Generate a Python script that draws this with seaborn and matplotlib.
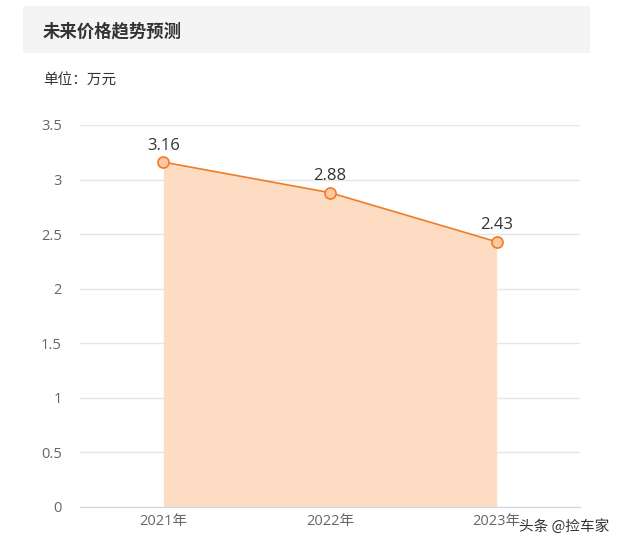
import numpy as np
import pandas as pd
import matplotlib
matplotlib.use("Agg")
import matplotlib.pyplot as plt
import seaborn as sns
from matplotlib.patches import Rectangle

# data
years = ["2021年", "2022年", "2023年"]
prices = [3.16, 2.88, 2.43]
y_ticks = [0, 0.5, 1, 1.5, 2, 2.5, 3, 3.5]

sns.set_style("white")
plt.rcParams["font.family"] = ["Open Sans", "Noto Sans CJK SC", "DejaVu Sans"]

W, H = 623, 549
fig = plt.figure(figsize=(W / 100, H / 100), dpi=100)

# title band
fig.patches.append(Rectangle((23 / W, 1 - 53 / H), 567 / W, 47 / H,
                             transform=fig.transFigure, facecolor="#f4f4f4",
                             edgecolor="none", zorder=0))
fig.text(43 / W, 1 - 31 / H, "未来价格趋势预测", fontsize=12.5, fontweight="bold",
         color="#333333", va="center", ha="left", family="Noto Sans CJK SC")
fig.text(43 / W, 1 - 80 / H, "单位：万元", fontsize=10.5, color="#333333",
         va="center", ha="left", family="Noto Sans CJK SC")

ax = fig.add_axes([80 / W, (H - 507) / H, 500 / W, (507 - 125) / H])

df = pd.DataFrame({"pos": np.arange(len(years)), "price": prices})
ax.fill_between(df["pos"], df["price"], 0, color="#fedcc3", lw=0, zorder=1)
sns.lineplot(data=df, x="pos", y="price", ax=ax, color="#f27b27", lw=1.2,
             marker="o", markersize=8, markerfacecolor="#fcc9a2",
             markeredgecolor="#f27b27", markeredgewidth=1.2, zorder=3)

for x, v in zip(df["pos"], df["price"]):
    ax.annotate(f"{v:.2f}", (x, v), xytext=(0, 6), textcoords="offset points",
                ha="center", va="bottom", fontsize=12, color="#333333")

ax.set_xlim(-0.5, len(years) - 0.5)
ax.set_ylim(0, 3.5)
ax.set_yticks(y_ticks)
ax.set_yticklabels([f"{t:g}" for t in y_ticks], fontsize=10.5, color="#666666")
ax.yaxis.grid(True, color="#e6e6e6", lw=1)
ax.set_axisbelow(True)
ax.tick_params(axis="y", length=0, pad=13)

ax.set_xticks(np.arange(-0.5, len(years), 1), minor=False)
ax.set_xticklabels([])
ax.set_xticks(np.arange(len(years)), minor=True)
ax.set_xticklabels(years, minor=True, fontsize=10.5, color="#666666")
ax.tick_params(axis="x", which="major", length=10, color="#ccd6eb", width=1)
ax.tick_params(axis="x", which="minor", length=0, pad=5)

for s in ["top", "right", "left"]:
    ax.spines[s].set_visible(False)
ax.spines["bottom"].set_color("#ccd6eb")
ax.set_xlabel("")
ax.set_ylabel("")

# watermark
fig.text(609 / W, 1 - 526 / H, "头条 @捡车家", fontsize=10.5, color="#333333",
         ha="right", va="center", family="Noto Sans CJK SC")

fig.savefig("out.png", dpi=100)
